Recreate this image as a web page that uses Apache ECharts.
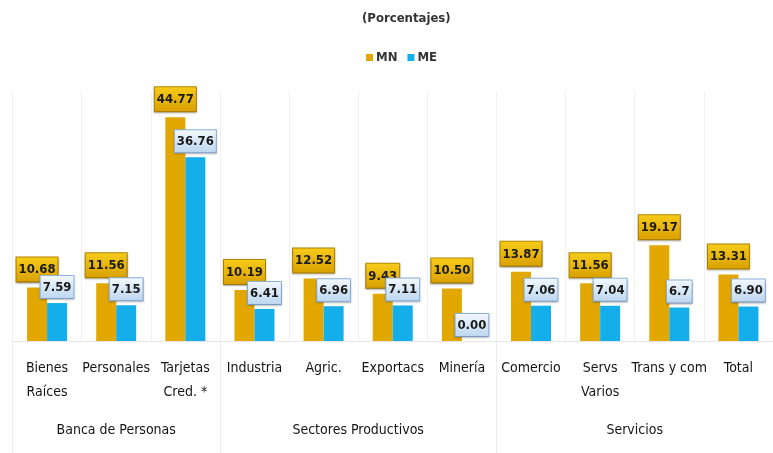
<!DOCTYPE html>
<html lang="es">
<head>
    <meta charset="UTF-8">
    <title>Porcentajes MN ME</title>
    <script src="https://cdn.jsdelivr.net/npm/echarts@6/dist/echarts.min.js"></script>
    <style type="text/css">
        html, body { margin: 0; height: 100%; background: #fff; }
        #chart { width: 773px; height: 453px; }
    </style>
</head>
<body>
    <div id="chart"></div>
    <script type="text/javascript">
        var categories = ['Bienes\nRaíces', 'Personales', 'Tarjetas\nCred. *', 'Industria', 'Agric.',
            'Exportacs', 'Minería', 'Comercio', 'Servs\nVarios', 'Trans y com', 'Total'];
        var mnValues = [10.68, 11.56, 44.77, 10.19, 12.52, 9.43, 10.50, 13.87, 11.56, 19.17, 13.31];
        var meValues = [7.59, 7.15, 36.76, 6.41, 6.96, 7.11, 0.00, 7.06, 7.04, 6.7, 6.90];
        var meText = ['7.59', '7.15', '36.76', '6.41', '6.96', '7.11', '0.00', '7.06', '7.04', '6.7', '6.90'];
        var groupNames = ['Banca de Personas', 'Sectores Productivos', 'Servicios'];
        var groupCenters = [1.5, 5, 9];
        var groupBounds = [0, 3, 7, 11];

        var FONT = "'DejaVu Sans Condensed', 'Liberation Sans Narrow', Roboto, sans-serif";
        var chart = echarts.init(document.getElementById('chart'));

        var option = {
            backgroundColor: '#fff',
            animation: false,
            title: {
                text: '(Porcentajes)',
                left: 357,
                top: 7,
                textStyle: { fontFamily: FONT, fontSize: 13, fontWeight: 'bold', color: '#333' }
            },
            legend: {
                data: ['MN', 'ME'],
                left: 361,
                top: 46,
                icon: 'rect',
                itemWidth: 7,
                itemHeight: 7,
                itemGap: 10,
                textStyle: { fontFamily: FONT, fontSize: 13, fontWeight: 'bold', color: '#333', padding: [0, 0, 0, -2] }
            },
            grid: { left: 12.5, width: 769, top: 91, bottom: 112 },
            xAxis: [
                {
                    type: 'category',
                    data: categories,
                    axisLine: { lineStyle: { color: '#e6e6e6' } },
                    axisTick: { length: 62, lineStyle: { color: '#f0f0f0' } },
                    splitLine: { show: true, lineStyle: { color: '#f1f1f1' } },
                    axisLabel: {
                        fontFamily: FONT, fontSize: 14, color: '#151515',
                        lineHeight: 24, margin: 15, interval: 0
                    }
                },
                {
                    type: 'value',
                    min: 0,
                    max: 11,
                    position: 'bottom',
                    axisLine: { show: false },
                    splitLine: { show: false },
                    axisTick: { show: true, customValues: groupBounds, length: 112, lineStyle: { color: '#ececec' } },
                    axisLabel: {
                        customValues: groupCenters,
                        margin: 82,
                        fontFamily: FONT, fontSize: 14, color: '#151515',
                        formatter: function (v) {
                            var i = groupCenters.indexOf(v);
                            return i >= 0 ? groupNames[i] : '';
                        }
                    }
                }
            ],
            yAxis: {
                type: 'value',
                min: 0,
                max: 50,
                show: false
            },
            series: [
                {
                    name: 'MN',
                    type: 'bar',
                    data: mnValues,
                    barWidth: 20,
                    barGap: '0%',
                    itemStyle: { color: '#E2A700' },
                    label: {
                        show: true,
                        position: 'top',
                        distance: 6,
                        formatter: function (p) { return p.value.toFixed(2); },
                        fontFamily: FONT, fontSize: 13, fontWeight: 'bold', color: '#1a1a1a',
                        padding: [6, 2, 5, 2],
                        borderColor: '#B98A00',
                        borderWidth: 1,
                        shadowColor: 'rgba(0,0,0,0.25)',
                        shadowBlur: 2,
                        shadowOffsetY: 1,
                        backgroundColor: new echarts.graphic.LinearGradient(0, 0, 0, 1, [
                            { offset: 0, color: '#F7CC1A' },
                            { offset: 1, color: '#D9A000' }
                        ])
                    }
                },
                {
                    name: 'ME',
                    type: 'bar',
                    data: meValues,
                    barWidth: 20,
                    itemStyle: { color: '#14AEEB' },
                    label: {
                        show: true,
                        position: 'top',
                        distance: 5,
                        formatter: function (p) { return meText[p.dataIndex]; },
                        fontFamily: FONT, fontSize: 13, fontWeight: 'bold', color: '#1a1a1a',
                        padding: [5, 2, 4, 2],
                        borderColor: '#8DB4E2',
                        borderWidth: 1,
                        shadowColor: 'rgba(0,0,0,0.2)',
                        shadowBlur: 2,
                        shadowOffsetY: 1,
                        backgroundColor: new echarts.graphic.LinearGradient(0, 0, 0, 1, [
                            { offset: 0, color: '#F4F9FE' },
                            { offset: 1, color: '#BCD6F0' }
                        ])
                    }
                }
            ]
        };

        chart.setOption(option);
    </script>
</body>
</html>
